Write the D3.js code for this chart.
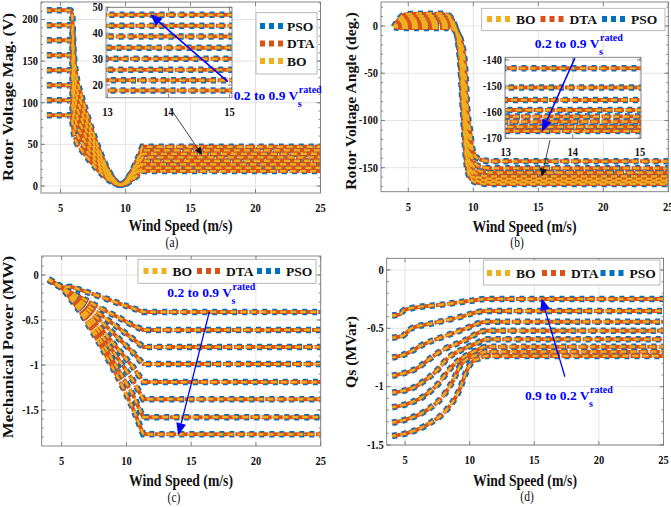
<!DOCTYPE html>
<html>
<head>
<meta charset="utf-8">
<script src="https://cdn.jsdelivr.net/npm/d3@7"></script>
<style>
  body { margin: 0; background: #fff; }
  svg text { font-family: "Liberation Serif", "Times New Roman", serif; }
</style>
</head>
<body>
<svg id="fig" width="671" height="507"></svg>
<script>
// ---------------------- Data ----------------------
const windTicks = [5, 10, 15, 20, 25];
const insetXTicks = [13, 14, 15];

// (a) rotor voltage magnitude (V), one curve per stator voltage level
const magCurves = [
  [[3.95,211],[5.75,211],[5.9,205],[6.0,165],[6.2,135],[6.6,109.1],[7.0,88],[7.5,63.9],[8.0,42.5],[8.5,24.2],[9.0,10.5],[9.3,4.5],[9.6,1.5],[10.0,5.5],[10.4,15],[10.8,27.6],[11.3,47.1],[25,47.1]],
  [[3.95,193],[5.75,193],[5.9,187],[6.0,150],[6.2,122],[6.6,99.8],[7.0,80.5],[7.5,58.4],[8.0,38.9],[8.5,22.2],[9.0,9.6],[9.3,4.2],[9.6,1.5],[10.0,5.1],[10.4,13.7],[10.8,25.2],[11.3,42.9],[25,42.9]],
  [[3.95,175],[5.75,175],[5.9,169],[6.0,136],[6.2,111],[6.6,90.4],[7.0,72.9],[7.5,52.9],[8.0,35.2],[8.5,20.1],[9.0,8.8],[9.3,3.9],[9.6,1.5],[10.0,4.6],[10.4,12.5],[10.8,22.9],[11.3,38.7],[25,38.7]],
  [[3.95,157],[5.75,157],[5.9,151],[6.0,122],[6.2,99],[6.6,81.1],[7.0,65.4],[7.5,47.5],[8.0,31.6],[8.5,18],[9.0,8],[9.3,3.6],[9.6,1.5],[10.0,4.1],[10.4,11.2],[10.8,20.5],[11.3,34.4],[25,34.4]],
  [[3.95,139],[5.75,139],[5.9,133],[6.0,108],[6.2,88],[6.6,71.7],[7.0,57.8],[7.5,42],[8.0,27.9],[8.5,15.9],[9.0,7.1],[9.3,3.3],[9.6,1.5],[10.0,3.7],[10.4,9.9],[10.8,18.1],[11.3,30.1],[25,30.1]],
  [[3.95,121],[5.75,121],[5.9,115],[6.0,94],[6.2,76.5],[6.6,62.4],[7.0,50.3],[7.5,36.5],[8.0,24.3],[8.5,13.8],[9.0,6.3],[9.3,3],[9.6,1.5],[10.0,3.3],[10.4,8.6],[10.8,15.8],[11.3,25.9],[25,25.9]],
  [[3.95,103],[5.75,103],[5.9,97],[6.0,80],[6.2,65.5],[6.6,53.3],[7.0,43],[7.5,31.2],[8.0,20.7],[8.5,11.8],[9.0,5.5],[9.3,2.7],[9.6,1.5],[10.0,2.9],[10.4,7.3],[10.8,13.5],[11.3,21.8],[25,21.8]],
  [[3.95,85],[5.75,85],[5.9,79],[6.0,66],[6.2,54],[6.6,44],[7.0,35.5],[7.5,25.7],[8.0,17.1],[8.5,9.8],[9.0,4.7],[9.3,2.4],[9.6,1.5],[10.0,2.5],[10.4,6.1],[10.8,11.1],[11.3,17.9],[25,17.9]]
];
const magYTicks = [0, 50, 100, 150, 200];
const magInsetYTicks = [20, 30, 40, 50];

// (b) rotor voltage angle (deg.)
const angCurves = [
  [[3.9,-1],[4.7,-2],[5.5,-2],[7.95,-2],[8.35,-3],[8.75,-7],[9.1,-18],[9.35,-40],[9.55,-90],[9.75,-111.2],[9.95,-131.2],[10.25,-139.2],[10.75,-142.2],[11.55,-143.2],[25,-143.2]],
  [[3.9,-1],[4.7,-1],[5.5,0],[7.9,0],[8.3,-1],[8.7,-6],[9.05,-17],[9.3,-40],[9.5,-90],[9.7,-118.6],[9.9,-138.6],[10.2,-146.6],[10.7,-149.6],[11.5,-150.6],[25,-150.6]],
  [[3.9,-1],[4.7,1],[5.5,2],[7.85,2],[8.25,1],[8.65,-5],[9.0,-16],[9.25,-40],[9.45,-90],[9.65,-123.3],[9.85,-143.3],[10.15,-151.3],[10.65,-154.3],[11.45,-155.3],[25,-155.3]],
  [[3.9,-1],[4.7,3],[5.5,4],[7.8,4],[8.2,3],[8.6,-3],[8.95,-15],[9.2,-40],[9.4,-90],[9.6,-127.2],[9.8,-147.2],[10.1,-155.2],[10.6,-158.2],[11.4,-159.2],[25,-159.2]],
  [[3.9,-1],[4.7,5],[5.5,6],[7.75,6],[8.15,5],[8.55,-1],[8.9,-14],[9.15,-40],[9.35,-90],[9.55,-129.7],[9.75,-149.7],[10.05,-157.7],[10.55,-160.7],[11.35,-161.7],[25,-161.7]],
  [[3.9,-1],[4.7,7],[5.5,8],[7.7,8],[8.1,7],[8.5,1],[8.85,-13],[9.1,-40],[9.3,-90],[9.5,-131.6],[9.7,-151.6],[10.0,-159.6],[10.5,-162.6],[11.3,-163.6],[25,-163.6]],
  [[3.9,-1],[4.7,9.5],[5.5,10.5],[7.65,10.5],[8.05,9.5],[8.45,3.5],[8.8,-12],[9.05,-40],[9.25,-90],[9.45,-133.6],[9.65,-153.6],[9.95,-161.6],[10.45,-164.6],[11.25,-165.6],[25,-165.6]],
  [[3.9,-1],[4.7,12],[5.5,13],[7.6,13],[8.0,12],[8.4,6],[8.75,-10],[9.0,-40],[9.2,-90],[9.4,-135.2],[9.6,-155.2],[9.9,-163.2],[10.4,-166.2],[11.2,-167.2],[25,-167.2]]
];
const angYTicks = [-150, -100, -50, 0];
const angInsetYTicks = [-170, -160, -150, -140];

// (c) mechanical power (MW)
const powCurves = [
  [[4,-0.05],[5.1,-0.14],[5.7,-0.13],[8,-0.24],[9.5,-0.32],[11.3,-0.41],[25,-0.41]],
  [[4,-0.05],[5.1,-0.15],[6.5,-0.25],[8,-0.37],[9.5,-0.48],[10.5,-0.56],[11.3,-0.61],[25,-0.61]],
  [[4,-0.05],[5.1,-0.15],[6.5,-0.29],[8,-0.44],[9.5,-0.60],[10.5,-0.71],[11.3,-0.80],[25,-0.80]],
  [[4,-0.05],[5.1,-0.15],[6.5,-0.32],[8,-0.51],[9.5,-0.72],[10.5,-0.86],[11.3,-0.99],[25,-0.99]],
  [[4,-0.05],[5.1,-0.15],[6.5,-0.35],[8,-0.59],[9.5,-0.85],[10.5,-1.02],[11.3,-1.19],[25,-1.19]],
  [[4,-0.05],[5.1,-0.15],[6.5,-0.37],[8,-0.65],[9.5,-0.96],[10.5,-1.17],[11.3,-1.38],[25,-1.38]],
  [[4,-0.05],[5.1,-0.15],[6.5,-0.40],[8,-0.72],[9.5,-1.08],[10.5,-1.33],[11.3,-1.58],[25,-1.58]],
  [[4,-0.05],[5.1,-0.15],[6.5,-0.42],[8,-0.78],[9.5,-1.18],[10.5,-1.48],[11.3,-1.77],[25,-1.77]]
];
const powYTicks = [-1.5, -1, -0.5, 0];

// (d) stator reactive power Qs (MVar)
const qsCurves = [
  [[4,-0.39],[4.6,-0.38],[4.9,-0.345],[5.2,-0.335],[8,-0.295],[10,-0.265],[11.3,-0.249],[25,-0.249]],
  [[4,-0.58],[4.8,-0.565],[5.2,-0.53],[5.5,-0.5],[7,-0.46],[9,-0.41],[11.3,-0.351],[25,-0.351]],
  [[4,-0.75],[4.8,-0.73],[5.6,-0.69],[6.2,-0.65],[6.9,-0.615],[8.1,-0.566],[9.5,-0.51],[11.3,-0.443],[25,-0.443]],
  [[4,-0.906],[4.85,-0.886],[5.6,-0.86],[6.1,-0.83],[6.8,-0.77],[7.5,-0.714],[8.1,-0.675],[9.5,-0.61],[11.3,-0.52],[25,-0.52]],
  [[4,-1.051],[5.1,-1.029],[5.8,-1.0],[6.4,-0.957],[7.5,-0.857],[8.3,-0.757],[9.45,-0.68],[10.5,-0.63],[11.3,-0.594],[25,-0.594]],
  [[4,-1.177],[5.1,-1.149],[6.4,-1.086],[7.6,-0.971],[8.5,-0.843],[9.2,-0.771],[9.6,-0.743],[10.5,-0.69],[11.3,-0.657],[25,-0.657]],
  [[4,-1.309],[5.1,-1.28],[6.7,-1.2],[7.9,-1.086],[8.8,-0.929],[9.3,-0.814],[9.7,-0.771],[10.5,-0.73],[11.3,-0.7],[25,-0.7]],
  [[4,-1.423],[5.1,-1.4],[6.9,-1.314],[8.2,-1.2],[9.2,-1.029],[9.8,-0.857],[10.2,-0.786],[10.8,-0.755],[11.3,-0.737],[25,-0.737]]
];
const qsYTicks = [-1.5, -1, -0.5, 0];

const legendA = ['PSO', 'DTA', 'BO'];
const legendRow = ['BO', 'DTA', 'PSO'];

// line styles per optimiser, drawn bottom to top
const methods = [
  { name: 'PSO', color: '#0072BD', width: 6.5, dash: '5 5', offset: 0 },
  { name: 'DTA', color: '#D95319', width: 4,   dash: '10 1.5', offset: 0 },
  { name: 'BO',  color: '#EDB120', width: 2.2, dash: '6 4', offset: 2 }
];
const styleOf = Object.fromEntries(methods.map(m => [m.name, m]));

const svg = d3.select('#fig');
const defs = svg.append('defs');
let clipId = 0;

// ---------------------- Helpers ----------------------
function label(parent, x, y, str, o = {}) {
  const k = o.stretch ?? 1.2;
  const g = parent.append('g')
    .attr('transform', `translate(${x},${y}) scale(1,${k})` + (o.rotate ? ' rotate(-90)' : ''));
  const t = g.append('text')
    .attr('text-anchor', o.anchor || 'middle')
    .attr('dominant-baseline', o.baseline || 'central')
    .attr('font-size', o.size || 10)
    .attr('font-weight', o.weight || 'bold')
    .attr('fill', o.fill || '#111')
    .text(str);
  if (o.length) t.attr('textLength', o.length).attr('lengthAdjust', 'spacingAndGlyphs');
  return t;
}

function curvePath(pts, x, y, curve, sharpEnd) {
  const line = d3.line().x(d => x(d[0])).y(d => y(d[1])).curve(curve);
  if (!sharpEnd) return line(pts);
  const last = pts[pts.length - 1];
  return line(pts.slice(0, -1)) + `L${x(last[0])},${y(last[1])}`;
}

function axesBox(opt) {
  const g = svg.append('g');
  const x = d3.scaleLinear().domain(opt.xDomain).range([opt.l, opt.r]);
  const y = d3.scaleLinear().domain(opt.yDomain).range([opt.b, opt.t]);
  const id = 'clip' + (clipId++);
  defs.append('clipPath').attr('id', id).append('rect')
    .attr('x', opt.l).attr('y', opt.t).attr('width', opt.r - opt.l).attr('height', opt.b - opt.t);

  g.append('rect').attr('x', opt.l).attr('y', opt.t)
    .attr('width', opt.r - opt.l).attr('height', opt.b - opt.t).attr('fill', '#fff');

  // grid
  const grid = g.append('g').attr('stroke', '#e4e4e4').attr('stroke-width', 1);
  grid.selectAll('.gx').data(opt.xTicks).join('line')
    .attr('x1', d => x(d)).attr('x2', d => x(d)).attr('y1', opt.t).attr('y2', opt.b);
  grid.selectAll('.gy').data(opt.yTicks).join('line')
    .attr('y1', d => y(d)).attr('y2', d => y(d)).attr('x1', opt.l).attr('x2', opt.r);

  // curves: all PSO first, then DTA, then BO on top
  const cg = g.append('g').attr('clip-path', `url(#${id})`).attr('fill', 'none');
  methods.forEach(m => {
    cg.append('g').selectAll('path').data(opt.curves).join('path')
      .attr('d', d => curvePath(d, x, y, opt.curve, opt.sharpEnd))
      .attr('stroke', m.color).attr('stroke-width', m.width)
      .attr('stroke-dasharray', m.dash).attr('stroke-dashoffset', m.offset);
  });

  // box and ticks (inward, on all sides)
  const ax = g.append('g').attr('stroke', '#7a7a7a').attr('stroke-width', 0.9);
  ax.append('rect').attr('x', opt.l).attr('y', opt.t)
    .attr('width', opt.r - opt.l).attr('height', opt.b - opt.t).attr('fill', 'none');
  const tl = 4;
  ax.selectAll('.tx').data(opt.xTicks).join('path')
    .attr('d', d => `M${x(d)},${opt.b}v${-tl}M${x(d)},${opt.t}v${tl}`);
  ax.selectAll('.ty').data(opt.yTicks).join('path')
    .attr('d', d => `M${opt.l},${y(d)}h${tl}M${opt.r},${y(d)}h${-tl}`);
  if (opt.minorStep) {
    const [lo, hi] = opt.yDomain;
    const minor = d3.range(Math.ceil(lo / opt.minorStep), Math.floor(hi / opt.minorStep) + 1)
      .map(i => i * opt.minorStep);
    ax.selectAll('.tm').data(minor).join('path')
      .attr('d', d => `M${opt.l},${y(d)}h2M${opt.r},${y(d)}h-2`);
  }

  // tick labels
  const lab = g.append('g');
  opt.xTicks.forEach(d => label(lab, x(d), opt.b + (opt.xLabelGap || 15), String(d), { size: 10.5 }));
  opt.yTicks.forEach(d => label(lab, opt.l - 3, y(d), String(d), { size: 10.5, anchor: 'end' }));
  return { x, y, g };
}

function arrow(x1, y1, x2, y2, color, lw, headLen, headHalf) {
  const a = Math.atan2(y2 - y1, x2 - x1);
  const bx = x2 - headLen * Math.cos(a), by = y2 - headLen * Math.sin(a);
  svg.append('line').attr('x1', x1).attr('y1', y1).attr('x2', bx).attr('y2', by)
    .attr('stroke', color).attr('stroke-width', lw);
  const px = -Math.sin(a) * headHalf, py = Math.cos(a) * headHalf;
  svg.append('path')
    .attr('d', `M${x2},${y2}L${bx + px},${by + py}L${bx - px},${by - py}Z`)
    .attr('fill', color);
}

function ratedText(x, y, str) {
  const t = svg.append('text').attr('x', x).attr('y', y)
    .attr('font-size', 13.5).attr('font-weight', 'bold').attr('fill', '#0000ff')
    .text(str);
  const w = t.node().getComputedTextLength();
  svg.append('text').attr('x', x + w + 0.5).attr('y', y - 7)
    .attr('font-size', 10).attr('font-weight', 'bold').attr('fill', '#0000ff').text('rated');
  svg.append('text').attr('x', x + w - 0.5).attr('y', y + 7)
    .attr('font-size', 10).attr('font-weight', 'bold').attr('fill', '#0000ff').text('s');
}

function legendSample(x1, x2, y, name) {
  const m = styleOf[name];
  svg.append('line').attr('x1', x1).attr('x2', x2).attr('y1', y).attr('y2', y)
    .attr('stroke', m.color).attr('stroke-width', 6).attr('stroke-dasharray', '5 4');
}

function legendVertical(box, names) {
  svg.append('rect').attr('x', box.l).attr('y', box.t).attr('width', box.r - box.l)
    .attr('height', box.b - box.t).attr('fill', '#fff').attr('stroke', '#a8a8a8').attr('stroke-width', 0.8);
  names.forEach((n, i) => {
    const yy = box.y0 + i * box.dy;
    legendSample(box.l + 4, box.l + 27, yy, n);
    label(svg, box.l + 31, yy, n, { size: 13.5, anchor: 'start', stretch: 1 });
  });
}

function legendRowBox(box, names) {
  svg.append('rect').attr('x', box.l).attr('y', box.t).attr('width', box.r - box.l)
    .attr('height', box.b - box.t).attr('fill', '#fff').attr('stroke', '#a8a8a8').attr('stroke-width', 0.8);
  names.forEach((n, i) => {
    const x0 = box.xs[i];
    legendSample(x0, x0 + 24, box.y, n);
    label(svg, x0 + 29, box.y, n, { size: 13.5, anchor: 'start', stretch: 1 });
  });
}

// ---------------------- (a) Rotor voltage magnitude ----------------------
const A = axesBox({ l: 41, r: 320.5, t: 2, b: 193, xDomain: [3.5, 25], yDomain: [-8.4, 221],
  xTicks: windTicks, yTicks: magYTicks, minorStep: 10, curves: magCurves,
  curve: d3.curveMonotoneX, sharpEnd: true });
const Ai = axesBox({ l: 106, r: 232, t: 7.3, b: 97.7, xDomain: [12.975, 15.04], yDomain: [15.1, 50],
  xTicks: insetXTicks, yTicks: magInsetYTicks, curves: magCurves,
  curve: d3.curveMonotoneX, sharpEnd: true, xLabelGap: 14 });
legendVertical({ l: 256, r: 317, t: 12.7, b: 74, y0: 26, dy: 17.5 }, legendA);
arrow(A.x(13.44), A.y(93.6), A.x(15.9), A.y(37.2), '#111', 0.8, 8, 3.5);
arrow(Ai.x(14.97), Ai.y(21.3), Ai.x(13.70), Ai.y(47.3), '#0000ff', 1.5, 12, 5);
ratedText(Ai.x(14.97) + 6, Ai.y(21.3) + 18, '0.2 to 0.9 V');
label(svg, 180.5, 225, 'Wind Speed (m/s)', { size: 14, stretch: 1.25, length: 104 });
label(svg, 8, 97, 'Rotor Voltage Mag. (V)', { size: 14, stretch: 1.2, rotate: true, length: 140 });
label(svg, 172, 243, '(a)', { size: 11.5, weight: 'normal', stretch: 1.2 });

// ---------------------- (b) Rotor voltage angle ----------------------
const B = axesBox({ l: 381, r: 668.3, t: 2, b: 191.7, xDomain: [2.9, 25], yDomain: [-175.4, 25.4],
  xTicks: windTicks, yTicks: angYTicks, minorStep: 10, curves: angCurves,
  curve: d3.curveMonotoneX });
const Bi = axesBox({ l: 505, r: 641, t: 57.3, b: 138.3, xDomain: [12.99, 15.015], yDomain: [-170, -139],
  xTicks: insetXTicks, yTicks: angInsetYTicks, curves: angCurves,
  curve: d3.curveMonotoneX, xLabelGap: 13.5 });
legendRowBox({ l: 481.7, r: 665, t: 8.3, b: 30.7, y: 19, xs: [487, 540.5, 602] }, legendRow);
arrow(B.x(15.9), B.y(-120.7), B.x(15.26), B.y(-159.5), '#111', 0.8, 8, 3.5);
arrow(Bi.x(14.03), Bi.y(-139.3), Bi.x(13.54), Bi.y(-167.5), '#0000ff', 1.5, 12, 5);
ratedText(Bi.x(14.03) - 40, Bi.y(-139.3) - 10, '0.2 to 0.9 V');
label(svg, 524.5, 226, 'Wind Speed (m/s)', { size: 14, stretch: 1.25, length: 104 });
label(svg, 351.5, 101, 'Rotor Voltage Angle (deg.)', { size: 14, stretch: 1.2, rotate: true, length: 148 });
label(svg, 517, 243, '(b)', { size: 11.5, weight: 'normal', stretch: 1.2 });

// ---------------------- (c) Mechanical power ----------------------
const C = axesBox({ l: 41.7, r: 320.7, t: 256, b: 446, xDomain: [3.46, 25], yDomain: [-1.9, 0.211],
  xTicks: windTicks, yTicks: powYTicks, minorStep: 0.1, curves: powCurves,
  curve: d3.curveLinear });
legendRowBox({ l: 138, r: 316, t: 259.3, b: 283.3, y: 271, xs: [143.5, 197, 257] }, legendRow);
arrow(C.x(16.4), C.y(-0.41), C.x(14.0), C.y(-1.78), '#0000ff', 1.3, 12, 5);
ratedText(C.x(16.4) - 42, C.y(-0.41) - 15, '0.2 to 0.9 V');
label(svg, 181, 480, 'Wind Speed (m/s)', { size: 14, stretch: 1.25, length: 104 });
label(svg, 8, 347, 'Mechanical Power (MW)', { size: 14, stretch: 1.2, rotate: true, length: 152 });
label(svg, 174, 498, '(c)', { size: 11.5, weight: 'normal', stretch: 1.2 });

// ---------------------- (d) Stator reactive power ----------------------
const D = axesBox({ l: 386.7, r: 663.5, t: 258.3, b: 445, xDomain: [3.58, 25], yDomain: [-1.5, 0.1],
  xTicks: windTicks, yTicks: qsYTicks, minorStep: 0.1, curves: qsCurves,
  curve: d3.curveMonotoneX });
legendRowBox({ l: 483.3, r: 660, t: 260, b: 285, y: 273, xs: [487, 542, 600.5] }, legendRow);
arrow(D.x(17.37), D.y(-0.915), D.x(15.57), D.y(-0.243), '#0000ff', 1.3, 12, 5);
ratedText(D.x(17.37) - 40, D.y(-0.915) + 23, '0.9 to 0.2 V');
label(svg, 525, 480, 'Wind Speed (m/s)', { size: 14, stretch: 1.25, length: 104 });
label(svg, 351, 352, 'Qs (MVar)', { size: 14, stretch: 1.2, rotate: true, length: 60 });
label(svg, 527, 497, '(d)', { size: 11.5, weight: 'normal', stretch: 1.2 });
</script>
</body>
</html>
